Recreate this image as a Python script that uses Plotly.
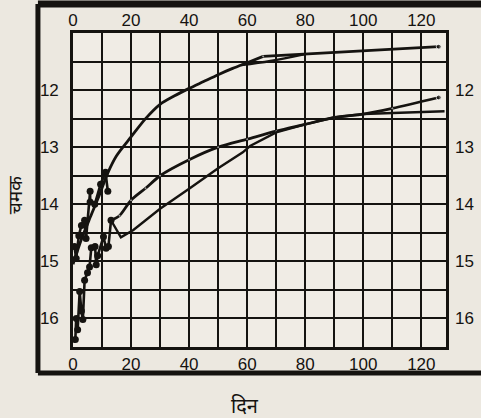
import plotly.graph_objects as go

# ---------------- data ----------------
# star A – early observations and smoothed light curve
a_obs_days = [0.5, 1.1, 2.0, 2.9, 4.0, 4.5, 5.9, 5.9, 7.5, 9.5, 11.2, 12.0]
a_obs_mag = [14.74, 14.95, 14.55, 14.37, 14.28, 14.6, 13.77, 13.96, 14.0, 13.65, 13.44, 13.77]
a_curve_days = [0, 3, 6, 9, 12, 15, 20, 25, 30, 35, 40, 45, 50, 55, 60, 65.5]
a_curve_mag = [15.05, 14.6, 14.22, 13.85, 13.45, 13.15, 12.82, 12.5, 12.25, 12.1, 11.97, 11.85, 11.73, 11.62, 11.52, 11.41]
a_tail_days = [65.5, 126]
a_tail_mag = [11.41, 11.24]
a_branch_days = [58, 68, 80]
a_branch_mag = [11.56, 11.49, 11.37]

# star B – early observations and smoothed light curve
b_obs_days = [0.8, 1.1, 1.6, 2.3, 2.9, 3.4, 4.0, 5.0, 5.7, 6.3, 7.6, 8.0, 8.5, 10.5, 11.4, 12.2, 13.1]
b_obs_mag = [16.37, 16.0, 16.2, 15.53, 15.87, 16.02, 15.33, 15.2, 15.1, 14.76, 14.74, 15.06, 14.9, 14.57, 14.77, 14.74, 14.28]
b_curve_days = [13.1, 16, 20, 25, 30, 40, 50, 60, 70, 80, 90, 100, 110, 126]
b_curve_mag = [14.28, 14.2, 13.93, 13.72, 13.5, 13.22, 13.0, 12.86, 12.72, 12.6, 12.48, 12.42, 12.32, 12.13]

# star C – second branch
c_curve_days = [13.1, 16.5, 20.8, 30, 40, 50, 58.5, 61, 70, 80, 90, 100, 128]
c_curve_mag = [14.28, 14.58, 14.45, 14.08, 13.73, 13.37, 13.09, 12.98, 12.74, 12.6, 12.48, 12.42, 12.37]

x_ticks = [0, 20, 40, 60, 80, 100, 120]
y_ticks = [12, 13, 14, 15, 16]
y_minor = [11.5, 12.5, 13.5, 14.5, 15.5]
x_title = "दिन"
y_title = "चमक"

INK = "#151310"
PAPER = "#ece8e0"
PLOT = "#f0ece5"
FONT = "Liberation Sans, Arial, sans-serif"

fig = go.Figure()

line_w = 2.8
fig.add_trace(go.Scatter(x=a_curve_days, y=a_curve_mag, mode="lines",
                         line=dict(color=INK, width=line_w, shape="spline", smoothing=0.8),
                         hoverinfo="skip", showlegend=False))
fig.add_trace(go.Scatter(x=a_tail_days, y=a_tail_mag, mode="lines+markers",
                         line=dict(color=INK, width=line_w), marker=dict(size=[1, 5], color=INK),
                         hoverinfo="skip", showlegend=False))
fig.add_trace(go.Scatter(x=a_branch_days, y=a_branch_mag, mode="lines",
                         line=dict(color=INK, width=2.4, shape="spline"),
                         xaxis="x2", yaxis="y2",
                         hoverinfo="skip", showlegend=False))
fig.add_trace(go.Scatter(x=a_obs_days, y=a_obs_mag, mode="lines+markers",
                         line=dict(color=INK, width=2.6), marker=dict(size=7, color=INK),
                         hoverinfo="skip", showlegend=False))

fig.add_trace(go.Scatter(x=b_curve_days, y=b_curve_mag, mode="lines+markers",
                         line=dict(color=INK, width=line_w, shape="spline", smoothing=0.8),
                         marker=dict(size=[1] * (len(b_curve_days) - 1) + [5], color=INK),
                         hoverinfo="skip", showlegend=False))
fig.add_trace(go.Scatter(x=b_obs_days, y=b_obs_mag, mode="lines+markers",
                         line=dict(color=INK, width=2.6), marker=dict(size=7, color=INK),
                         hoverinfo="skip", showlegend=False))
fig.add_trace(go.Scatter(x=c_curve_days, y=c_curve_mag, mode="lines",
                         line=dict(color=INK, width=2.4),
                         hoverinfo="skip", showlegend=False))

tick_font = dict(family=FONT, size=17, color=INK)
grid = dict(showgrid=True, gridcolor=INK, gridwidth=2)

fig.update_layout(
    width=481, height=418,
    margin=dict(l=73, r=35, t=33, b=71, autoexpand=False),
    paper_bgcolor=PAPER, plot_bgcolor=PLOT,
    showlegend=False,
    xaxis=dict(range=[0, 128.5], tickmode="array", tickvals=x_ticks, **grid,
               minor=dict(dtick=10, tick0=0, showgrid=True, gridcolor=INK, gridwidth=2),
               showline=True, linecolor=INK, linewidth=2.6, mirror=True, automargin=False,
               zeroline=False, ticks="", tickfont=tick_font, ticklabelstandoff=0),
    xaxis2=dict(overlaying="x", matches="x", side="top", tickmode="array", tickvals=x_ticks,
                showgrid=False, zeroline=False, ticks="", tickfont=tick_font, ticklabelstandoff=3,
                automargin=False),
    yaxis=dict(range=[16.5, 11], tickmode="array", tickvals=y_ticks, **grid,
               minor=dict(tickmode="array", tickvals=y_minor, showgrid=True, gridcolor=INK, gridwidth=2),
               showline=True, linecolor=INK, linewidth=2.6, mirror=True, automargin=False,
               zeroline=False, ticks="", tickfont=tick_font, ticklabelstandoff=8),
    yaxis2=dict(overlaying="y", matches="y", side="right", tickmode="array", tickvals=y_ticks,
                showgrid=False, zeroline=False, ticks="", tickfont=tick_font, ticklabelstandoff=8,
                automargin=False),
)

# outer printed frame (open on the right, cropped by the scan)
frame_left, frame_top, frame_bottom, frame_right = -0.094, 1.092, -0.083, 1.12
fig.add_shape(type="line", xref="paper", yref="paper", x0=frame_left, x1=frame_right,
              y0=frame_top, y1=frame_top, line=dict(color=INK, width=7))
fig.add_shape(type="line", xref="paper", yref="paper", x0=frame_left, x1=frame_right,
              y0=frame_bottom, y1=frame_bottom, line=dict(color=INK, width=5))
fig.add_shape(type="line", xref="paper", yref="paper", x0=frame_left, x1=frame_left,
              y0=frame_bottom, y1=frame_top, line=dict(color=INK, width=5))

fig.add_annotation(text=x_title, xref="paper", yref="paper", x=0.461, y=-0.185,
                   xanchor="center", yanchor="middle",
                   showarrow=False, font=dict(family="Noto Sans, DejaVu Sans, sans-serif", size=20, color=INK))
fig.add_annotation(text=y_title, xref="paper", yref="paper", x=-0.155, y=0.484, textangle=-90,
                   xanchor="center", yanchor="middle",
                   showarrow=False, font=dict(family="Noto Sans, DejaVu Sans, sans-serif", size=19, color=INK))

fig.write_html("out.html", config={"displayModeBar": False},
               post_script="document.body.style.margin='0';document.body.style.overflow='hidden';")
